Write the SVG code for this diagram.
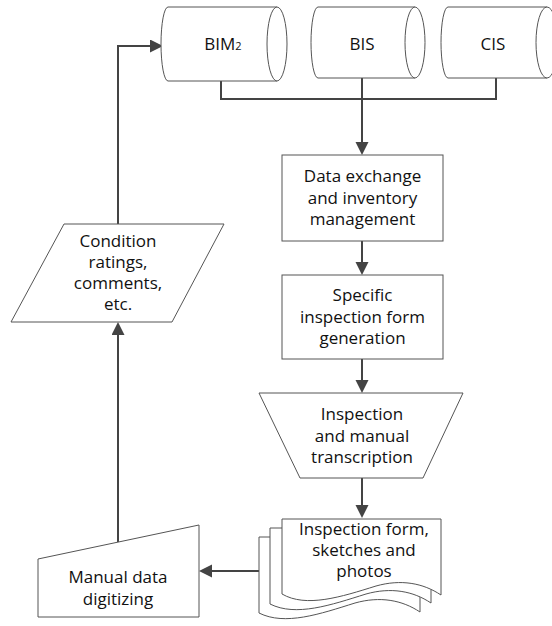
<svg xmlns="http://www.w3.org/2000/svg" width="552" height="626" viewBox="0 0 552 626">
<style>
.s{fill:#fff;stroke:#555;stroke-width:1}
.c{fill:none;stroke:#444;stroke-width:2}
.t{font-family:"Open Sans","DejaVu Sans",sans-serif;font-size:17px;fill:#111;text-anchor:middle}
</style>
<defs>
<marker id="ah" markerUnits="userSpaceOnUse" markerWidth="14" markerHeight="14" refX="3" refY="6.5" orient="auto">
<path d="M0,0 L13,6.5 L0,13 z" fill="#444"/>
</marker>
</defs>
<rect width="552" height="626" fill="#fff"/>
<g id="connectors">
<path class="c" d="M221,81 V99 H496 V78"/>
<path class="c" d="M362,78 V145" marker-end="url(#ah)"/>
<path class="c" d="M362,241 V265" marker-end="url(#ah)"/>
<path class="c" d="M362,359 V383" marker-end="url(#ah)"/>
<path class="c" d="M362,478 V508" marker-end="url(#ah)"/>
<path class="c" d="M259,571 H209" marker-end="url(#ah)"/>
<path class="c" d="M118,542 V332" marker-end="url(#ah)"/>
<path class="c" d="M118,224 V46 H153" marker-end="url(#ah)"/>
</g>
<g id="bim2">
<path class="s" d="M168,7 H277 A10,37 0 0 1 277,81 H168 A7,37 0 0 1 168,7 Z"/>
<path class="s" fill="none" d="M277,7 A10,37 0 0 0 277,81"/>
<text class="t" x="223" y="50">BIM<tspan font-size="11">2</tspan></text>
</g>
<g id="bis">
<path class="s" d="M318,7 H415 A10,35.5 0 0 1 415,78 H318 A7,35.5 0 0 1 318,7 Z"/>
<path class="s" fill="none" d="M415,7 A10,35.5 0 0 0 415,78"/>
<text class="t" x="362" y="50">BIS</text>
</g>
<g id="cis">
<path class="s" d="M448,7 H547 A11,35.5 0 0 1 547,78 H448 A7,35.5 0 0 1 448,7 Z"/>
<path class="s" fill="none" d="M547,7 A11,35.5 0 0 0 547,78"/>
<text class="t" x="493" y="50">CIS</text>
</g>
<g id="data-exchange">
<rect class="s" x="282" y="155" width="161" height="86"/>
<text class="t" x="362.5" y="182">Data exchange</text>
<text class="t" x="362.5" y="203.5">and inventory</text>
<text class="t" x="362.5" y="225">management</text>
</g>
<g id="specific-form">
<rect class="s" x="282" y="275" width="161" height="84"/>
<text class="t" x="362.5" y="301">Specific</text>
<text class="t" x="362.5" y="322.5">inspection form</text>
<text class="t" x="362.5" y="344">generation</text>
</g>
<g id="inspection">
<path class="s" d="M259,393 H463 L423,478 H300 Z"/>
<text class="t" x="362" y="420">Inspection</text>
<text class="t" x="362" y="441.5">and manual</text>
<text class="t" x="362" y="463">transcription</text>
</g>
<g id="documents">
<path class="s" d="M259,537 H420 V612 C402,600 380,596 355,603 C320,614 285,626 259,613 Z"/>
<path class="s" d="M270,528 H431 V603 C413,591 391,587 366,594 C331,605 296,617 270,604 Z"/>
<path class="s" d="M282,519 H441 V595 C423,583 401,579 376,586 C341,597 306,608 282,594 Z"/>
<text class="t" x="364" y="535">Inspection form,</text>
<text class="t" x="364" y="556">sketches and</text>
<text class="t" x="364" y="577">photos</text>
</g>
<g id="manual-digitizing">
<path class="s" d="M38,559 L199,525 V617 H38 Z"/>
<text class="t" x="118" y="583">Manual data</text>
<text class="t" x="118" y="605">digitizing</text>
</g>
<g id="condition">
<path class="s" d="M64,224 H224 L172,322 H11 Z"/>
<text class="t" x="118" y="247">Condition</text>
<text class="t" x="118" y="268">ratings,</text>
<text class="t" x="118" y="289">comments,</text>
<text class="t" x="118" y="310">etc.</text>
</g>
</svg>
